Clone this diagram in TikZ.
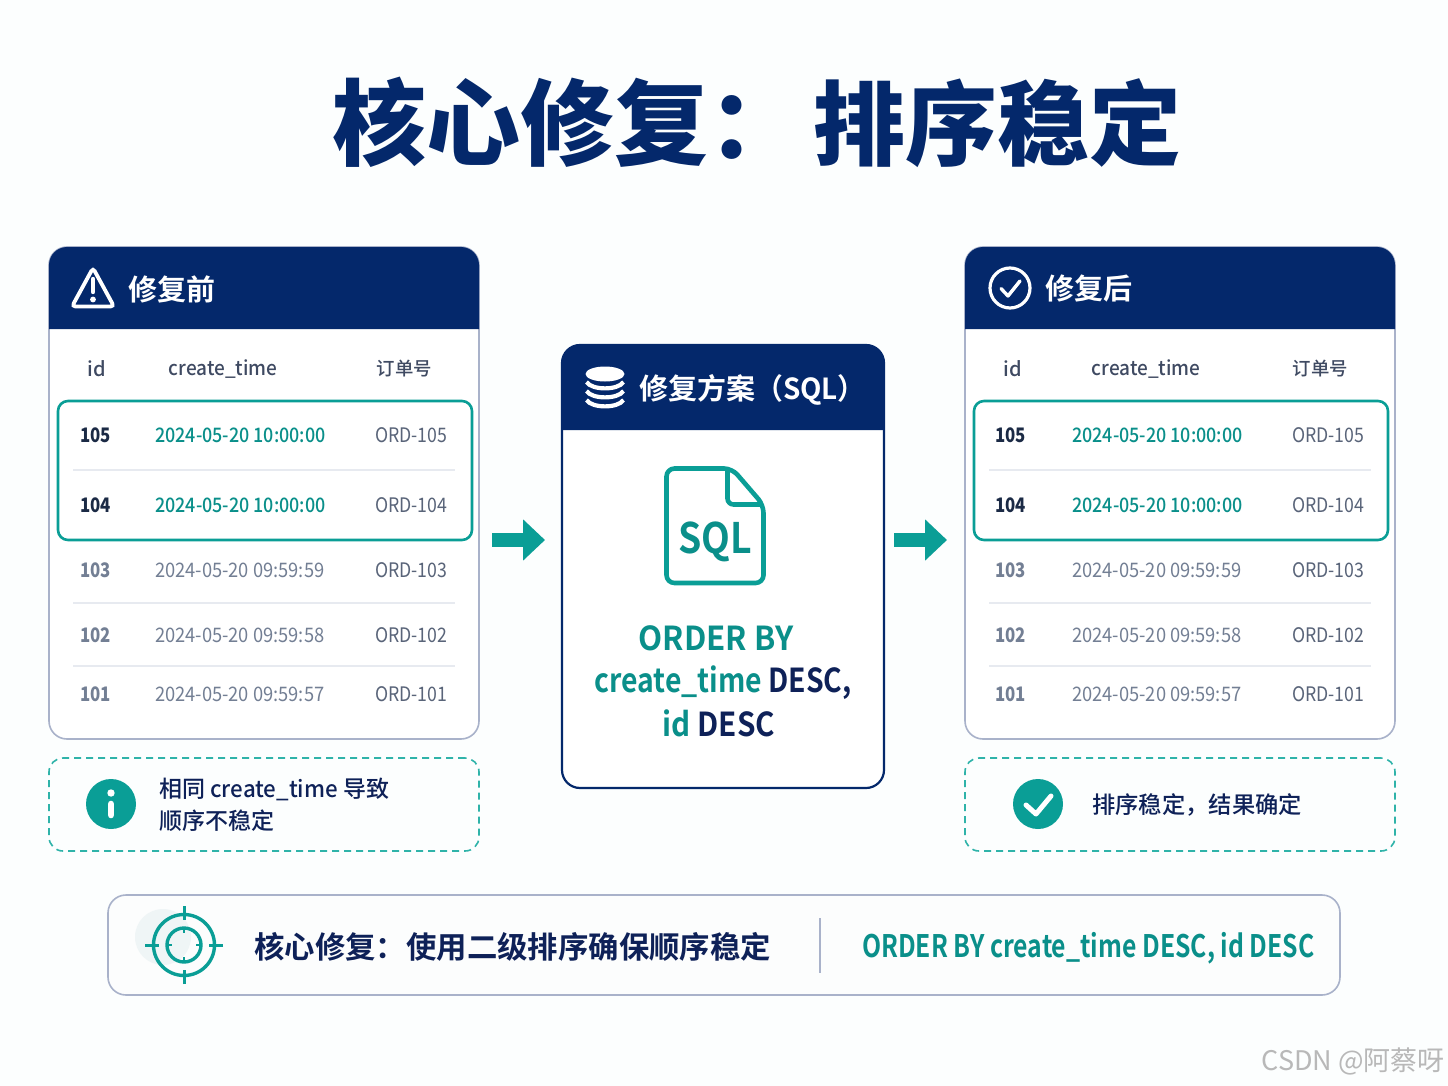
\documentclass[tikz,border=0pt]{standalone}
\usepackage{fontspec}
\usepackage{graphicx}
\usetikzlibrary{arrows.meta}
\setmainfont{Noto Sans CJK SC}[BoldFont=* Bold]
\newfontfamily\medf{Noto Sans CJK SC}[UprightFont=* Medium]
\newfontfamily\blackf{Noto Sans CJK SC}[UprightFont=* Black]
\definecolor{navy}{HTML}{04286B}
\definecolor{inkd}{HTML}{0E2158}
\definecolor{teal}{HTML}{0A9E96}
\definecolor{teald}{HTML}{0A8F8A}
\definecolor{dashc}{HTML}{2FB3A9}
\definecolor{edge}{HTML}{A9B2CA}
\definecolor{headc}{HTML}{3F4A62}
\definecolor{greyc}{HTML}{737F94}
\definecolor{ordc}{HTML}{596479}
\definecolor{darkc}{HTML}{1B2A45}
\definecolor{rule}{HTML}{E7EAF0}
\definecolor{blob}{HTML}{EFF5F6}
\newcommand{\fs}[1]{\fontsize{#1}{#1}\selectfont}
\newcommand{\cond}[2]{\scalebox{#1}[1]{#2}}
\tikzset{
  panel/.style={draw=edge,line width=1.6pt,fill=white,rounded corners=18pt,inner sep=0pt},
  panelc/.style={draw=navy,line width=2.2pt,fill=white,rounded corners=18pt,inner sep=0pt},
  hl/.style={draw=teal,line width=2.6pt,rounded corners=10pt,fill=none,inner sep=0pt},
  note/.style={draw=dashc,line width=1.6pt,dash pattern=on 7pt off 5pt,rounded corners=14pt,inner sep=0pt},
  cell/.style={inner sep=0pt,anchor=west,text height=15pt,text depth=2pt},
  hdr/.style={inner sep=0pt,text=white,anchor=west,font=\fs{29}\bfseries},
  blockarrow/.style={draw=teal,line width=14.5pt,-{Triangle[length=22pt,width=40pt]}},
  sep/.style={draw=rule,line width=1.2pt},
}
\def\tw{0}
% table body: #1 prefix, #2 x of the create_time heading
\newcommand{\tablebody}[2]{%
  \node[inner sep=0pt,text=headc,font=\medf\fs{20}] (#1hid) at (96.5,369) {id};
  \node[inner sep=0pt,text=headc,font=\medf\fs{20}] (#1hct) at (#2,369) {\cond{.95}{create\_time}};
  \node[inner sep=0pt,text=headc,font=\medf\fs{18.4}] (#1hord) at (404.5,369) {订单号};
  \draw[sep] (73,470) -- (455,470);
  \draw[sep] (73,603) -- (455,603);
  \draw[sep] (73,666) -- (455,666);
  \trow{#1}{a}{436}{105}{\cond{.895}{2024-05-20 10:00:00}}{ORD-105}{darkc}{teald}{\medf}
  \trow{#1}{b}{506}{104}{\cond{.895}{2024-05-20 10:00:00}}{ORD-104}{darkc}{teald}{\medf}
  \trow{#1}{c}{571}{103}{\cond{.915}{2024-05-20 09:59:59}}{ORD-103}{greyc}{greyc}{}
  \trow{#1}{d}{636}{102}{\cond{.915}{2024-05-20 09:59:58}}{ORD-102}{greyc}{greyc}{}
  \trow{#1}{e}{695}{101}{\cond{.915}{2024-05-20 09:59:57}}{ORD-101}{greyc}{greyc}{}
}
\newcommand{\trow}[9]{%
  \node[cell,text=#7,font=\medf\fs{20}] (#1#2i) at ({80-\tw},#3) {\cond{.84}{\bfseries #4}};
  \node[cell,text=#8,font=#9\fs{20}] (#1#2t) at ({155+\tw},#3) {#5};
  \node[cell,text=ordc,font=\fs{20}] (#1#2o) at ({375+\tw},#3) {\cond{.885}{#6}};
}
\begin{document}
\begin{tikzpicture}[x=1pt,y=-1pt]
\useasboundingbox (0,0) rectangle (1448,1086);
\fill[white!98!teal!50!white] (0,0) rectangle (1448,1086);

% title
\node[inner sep=0pt,anchor=west,text=navy,font=\blackf\fs{94}] (title) at (332,122) {核心修复：\hspace{11pt}{\fs{92}排序稳定}};

% left panel
\node[panel,minimum width=430pt,minimum height=492pt] (before) at (264,493) {};
\fill[navy] (49,329) [rounded corners=18pt] -- (49,247) -- (479,247) [sharp corners] -- (479,329) -- cycle;
\draw[white,line width=3.8pt,rounded corners=3.5pt] (93,268) -- (72,306.5) -- (114,306.5) -- cycle;
\draw[white,line width=4.4pt,line cap=round] (93,279) -- (93,292);
\fill[white] (93,299.5) circle (2.9pt);
\node[hdr] (beforeT) at (128,289) {修复前};
\tablebody{L}{223}
\node[hl,minimum width=414pt,minimum height=139pt] (beforeHL) at (265,470.5) {};

% right panel
\node[panel,minimum width=430pt,minimum height=492pt] (after) at (1180,493) {};
\fill[navy] (965,329) [rounded corners=18pt] -- (965,247) -- (1395,247) [sharp corners] -- (1395,329) -- cycle;
\draw[white,line width=3.2pt] (1010,288) circle (20pt);
\draw[white,line width=3.4pt,line cap=round,line join=round] (1001,288.5) -- (1008,296) -- (1020,281);
\node[hdr] (afterT) at (1045,289) {修复后};
\begin{scope}[xshift=916pt]
\def\tw{1}
\tablebody{R}{230}
\end{scope}
\node[hl,minimum width=414pt,minimum height=139pt] (afterHL) at (1181,470.5) {};

% centre panel
\node[panelc,minimum width=322pt,minimum height=443pt] (fix) at (723,566.5) {};
\fill[navy] (562,430) [rounded corners=18pt] -- (562,345) -- (884,345) [sharp corners] -- (884,430) -- cycle;
\fill[white] (605,374) ellipse (19.5pt and 7.5pt);
\foreach \yy in {382,391,400}
  \draw[white,line width=4.2pt] (586.5,\yy) .. controls (592,\yy+8.5) and (618,\yy+8.5) .. (623.5,\yy);
\node[hdr] (fixT) at (639,389.5) {修复方案\cond{.96}{（SQL）}};
\draw[teal,line width=4.6pt,rounded corners=8pt,line join=round]
  (666.5,525) -- (666.5,468.5) -- (732,468.5) -- (763.5,505) -- (763.5,583) -- (666.5,583) -- cycle;
\draw[teal,line width=4.6pt,line join=round,rounded corners=6pt]
  (727.5,470) -- (727.5,504.5) -- (762,504.5);
\node[inner sep=0pt,text=teald,font=\fs{42}\bfseries] (sqlT) at (715,542) {\cond{.89}{SQL}};
\node[inner sep=0pt,text=teald,font=\fs{33}\bfseries] (c1) at (716,638) {\cond{.95}{ORDER BY}};
\node[inner sep=0pt,font=\fs{33}\bfseries] (c2) at (723,683) {\cond{.86}{\textcolor{teald}{create\_time} \textcolor{inkd}{DESC,}}};
\node[inner sep=0pt,font=\fs{33}\bfseries] (c3) at (719,723) {\cond{.90}{\textcolor{teald}{id} \textcolor{inkd}{DESC}}};

% arrows
\coordinate (a1s) at (492,540); \coordinate (a1e) at (545,540);
\coordinate (a2s) at (894,540); \coordinate (a2e) at (947,540);
\draw[blockarrow] (a1s) -- (a1e);
\draw[blockarrow] (a2s) -- (a2e);

% notes
\node[note,minimum width=430pt,minimum height=93pt] (noteL) at (264,804.5) {};
\fill[teal] (111,804) circle (25pt);
\fill[white] (111,793) circle (3.7pt);
\draw[white,line width=6.6pt,line cap=round] (111,804) -- (111,815);
\node[inner sep=0pt,anchor=west,text=inkd,font=\medf\fs{23}] (noteL1) at (159,789) {相同 \cond{.97}{create\_time} 导致};
\node[inner sep=0pt,anchor=west,text=inkd,font=\medf\fs{23}] (noteL2) at (159,821) {顺序不稳定};
\node[note,minimum width=430pt,minimum height=93pt] (noteR) at (1180,804.5) {};
\fill[teal] (1038,804) circle (25pt);
\draw[white,line width=5pt,line cap=round,line join=round] (1026,805) -- (1036,814) -- (1051,796);
\node[inner sep=0pt,anchor=west,text=inkd,font=\medf\fs{23.3}] (noteR1) at (1092,805) {排序稳定，结果确定};

% bottom bar
\node[draw=edge,line width=1.6pt,fill=white!97!edge,rounded corners=18pt,inner sep=0pt,minimum width=1232pt,minimum height=100pt] (bar) at (724,945) {};
\fill[blob] (163,937) circle (28pt);
\draw[teal,line width=3.4pt] (184,945) circle (30.5pt);
\draw[teal,line width=3.4pt] (184,945) circle (17pt);
\foreach \a in {0,90,180,270}{
  \draw[teal,line width=3pt] (184,945) ++(\a:39pt) -- ++(\a+180:14pt);
  \draw[teal,line width=2.4pt] (184,945) ++(\a:17pt) -- ++(\a+180:5pt);
}
\node[inner sep=0pt,anchor=west,text=inkd,font=\fs{30.4}\bfseries] (barT) at (254,947) {核心修复：使用二级排序确保顺序稳定};
\draw[edge,line width=1.6pt] (820,918) -- (820,973);
\node[inner sep=0pt,anchor=west,text=teald,font=\fs{31}\bfseries] (barC) at (862,948) {\cond{.80}{ORDER BY create\_time DESC, id DESC}};

% watermark
\node[inner sep=0pt,anchor=east,text=black!28,font=\fs{27}] (wm) at (1445,1061) {CSDN @阿蔡呀};
\end{tikzpicture}
\end{document}
